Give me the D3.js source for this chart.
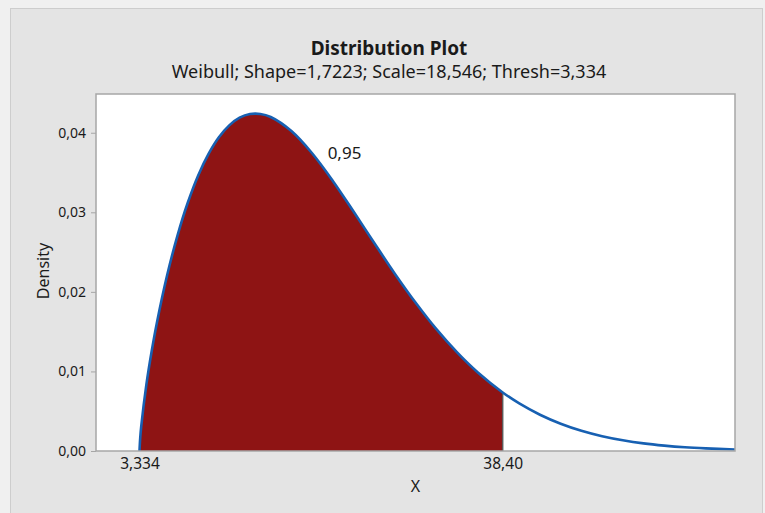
<!DOCTYPE html>
<html>
<head>
<meta charset="utf-8">
<script src="https://cdn.jsdelivr.net/npm/d3@7"></script>
<style>
  html, body { margin: 0; padding: 0; background: #f0f0f0; }
  svg { display: block; }
  text { font-family: "Noto Sans", "DejaVu Sans", sans-serif; fill: #1a1a1a; }
</style>
</head>
<body>
<svg id="chart" width="765" height="513"></svg>
<script>
// values
var xValues = [3.334, 3.4, 3.5, 4, 4.5, 5, 6, 7, 8, 9, 10, 11, 12, 13, 14, 15, 16, 18, 20, 22,
               24, 26, 28, 30, 32, 34, 36, 38.4, 40, 42, 44, 46, 48, 50, 52, 54, 56, 58, 60.83];
var densityValues = [0, 0.00158, 0.00308, 0.00837, 0.01248, 0.01604, 0.02208, 0.02708, 0.03123, 0.03464,
                     0.03735, 0.03944, 0.04093, 0.04189, 0.04235, 0.04236, 0.04198, 0.04021, 0.03742, 0.03395,
                     0.03010, 0.02614, 0.02226, 0.01863, 0.01531, 0.01239, 0.00987, 0.00736, 0.00598, 0.00456,
                     0.00343, 0.00254, 0.00186, 0.00135, 0.00096, 0.00068, 0.00047, 0.00033, 0.00019];
var yTicks = [0, 0.01, 0.02, 0.03, 0.04];
var yTickLabels = ["0,00", "0,01", "0,02", "0,03", "0,04"];
var xTicks = [3.334, 38.40];
var xTickLabels = ["3,334", "38,40"];
var cutoff = 38.40;
var areaLabel = "0,95";
var title = "Distribution Plot";
var subtitle = "Weibull; Shape=1,7223; Scale=18,546; Thresh=3,334";

var svg = d3.select("#chart");

// plot box (note: "top" is taken by window.top)
var plotLeft = 96, plotTop = 94, plotRight = 735, plotBottom = 451;

// gray panel
svg.append("rect")
    .attr("x", 10.5).attr("y", 8.5)
    .attr("width", 752).attr("height", 510)
    .style("fill", "#e4e4e4")
    .style("stroke", "#cdcdcd");

svg.append("rect")
    .attr("x", plotLeft).attr("y", plotTop)
    .attr("width", plotRight - plotLeft).attr("height", plotBottom - plotTop)
    .style("fill", "#ffffff");

var x = d3.scaleLinear().domain([-0.866, 60.83]).range([plotLeft, plotRight]);
var y = d3.scaleLinear().domain([0, 0.04487]).range([plotBottom, plotTop]);

var points = xValues.map(function(v, i) { return { x: v, y: densityValues[i] }; });
var shaded = points.filter(function(d) { return d.x <= cutoff; });

var area = d3.area()
    .x(function(d) { return x(d.x); })
    .y0(y(0))
    .y1(function(d) { return y(d.y); })
    .curve(d3.curveCatmullRom.alpha(0.5));

var line = d3.line()
    .x(function(d) { return x(d.x); })
    .y(function(d) { return y(d.y); })
    .curve(d3.curveCatmullRom.alpha(0.5));

svg.append("path")
    .datum(shaded)
    .attr("d", area)
    .style("fill", "#8e1414");

var cutY = densityValues[xValues.indexOf(cutoff)];
svg.append("line")
    .attr("x1", x(cutoff)).attr("x2", x(cutoff))
    .attr("y1", y(0)).attr("y2", y(cutY))
    .style("stroke", "#5a5a5a")
    .style("stroke-width", 1.5);

svg.append("path")
    .datum(points)
    .attr("d", line)
    .style("fill", "none")
    .style("stroke", "#1760b2")
    .style("stroke-width", 2.6);

// frame
svg.append("rect")
    .attr("x", plotLeft).attr("y", plotTop)
    .attr("width", plotRight - plotLeft).attr("height", plotBottom - plotTop)
    .style("fill", "none")
    .style("stroke", "#a6a6a6")
    .style("stroke-width", 1.5);

// axes
var yAxis = d3.axisLeft(y)
    .tickValues(yTicks)
    .tickFormat(function(d, i) { return yTickLabels[i]; })
    .tickSize(5)
    .tickPadding(5);

var gy = svg.append("g").attr("transform", "translate(" + plotLeft + ",0)").call(yAxis);
gy.select(".domain").remove();
gy.selectAll(".tick line").style("stroke", "#a6a6a6");
gy.selectAll("text").style("font-size", "14px").style("fill", "#1a1a1a")
    .style("font-family", "'Noto Sans', sans-serif");

var xAxis = d3.axisBottom(x)
    .tickValues(xTicks)
    .tickFormat(function(d, i) { return xTickLabels[i]; })
    .tickSize(0)
    .tickPadding(7);

var gx = svg.append("g").attr("transform", "translate(0," + plotBottom + ")").call(xAxis);
gx.select(".domain").remove();
gx.selectAll("text").style("font-size", "15.5px").style("fill", "#1a1a1a")
    .style("font-family", "'Noto Sans', sans-serif");

// labels
svg.append("text")
    .attr("x", x(21.5)).attr("y", y(0.0367))
    .style("font-size", "17px")
    .text(areaLabel);

svg.append("text")
    .attr("x", 389).attr("y", 55)
    .attr("text-anchor", "middle")
    .style("font-size", "19px")
    .style("font-weight", "bold")
    .text(title);

svg.append("text")
    .attr("x", 389).attr("y", 78)
    .attr("text-anchor", "middle")
    .style("font-size", "18px")
    .text(subtitle);

svg.append("text")
    .attr("transform", "translate(49,271) rotate(-90)")
    .attr("text-anchor", "middle")
    .style("font-size", "16px")
    .text("Density");

svg.append("text")
    .attr("x", (plotLeft + plotRight) / 2).attr("y", 492)
    .attr("text-anchor", "middle")
    .style("font-size", "16px")
    .text("X");
</script>
</body>
</html>
